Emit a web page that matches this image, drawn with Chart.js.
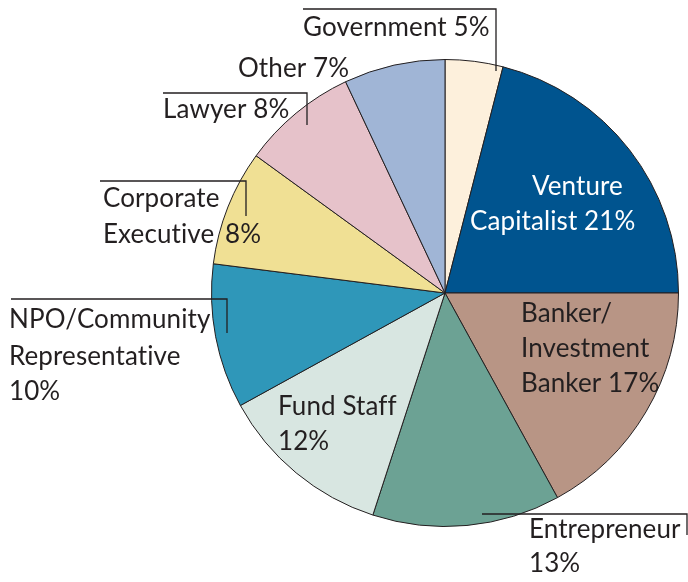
<!DOCTYPE html>
<html>
<head>
<meta charset="utf-8">
<script src="https://cdn.jsdelivr.net/npm/chart.js@4.4.1/dist/chart.umd.min.js"></script>
<style>
    html, body { margin: 0; padding: 0; background: #ffffff; }
    #contenedor { width: 688px; height: 582px; position: relative; }
</style>
</head>
<body>
<div id="contenedor"><canvas id="graficoPie"></canvas></div>
<script>
// Categories, clockwise from 12 o'clock
const categorias = ['Government', 'Venture Capitalist', 'Banker/Investment Banker', 'Entrepreneur',
    'Fund Staff', 'NPO/Community Representative', 'Corporate Executive', 'Lawyer', 'Other'];
// Percent printed in each label
const porcentajes = [5, 21, 17, 13, 12, 10, 8, 8, 7];
// Slice shares as drawn in the picture (government slice is drawn narrower than its label)
const partes = [4, 21, 17, 13, 12, 10, 8, 8, 7];
const colores = ['#fdf0dc', '#00548f', '#b89585', '#6ca294', '#d8e6e1',
    '#2f97b9', '#f0e094', '#e6c2ca', '#a0b5d6'];

const fuente = '26px Lato';
const tinta = '#231f20';

// text lines per slice: [text, x, baseline y]
const textos = [
    [['Government ' + porcentajes[0] + '%', 303, 36]],
    [['Venture', 532, 195], ['Capitalist ' + porcentajes[1] + '%', 470, 230]],
    [['Banker/', 521, 322], ['Investment', 521, 357], ['Banker ' + porcentajes[2] + '%', 521, 392]],
    [['Entrepreneur', 529, 538], [porcentajes[3] + '%', 529, 572]],
    [['Fund Staff', 278, 415], [porcentajes[4] + '%', 278, 450]],
    [['NPO/Community', 9, 328], ['Representative', 9, 365], [porcentajes[5] + '%', 9, 400]],
    [['Corporate', 103, 207], ['Executive', 103, 243], [porcentajes[6] + '%', 225, 243]],
    [['Lawyer ' + porcentajes[7] + '%', 163, 118]],
    [['Other ' + porcentajes[8] + '%', 238, 77]]
];
const colorTexto = [tinta, '#ffffff', tinta, tinta, tinta, tinta, tinta, tinta, tinta];

// leader brackets
const lineas = [
    [[303, 9], [496, 9], [496, 71]],
    [[163, 93], [307, 93], [307, 125]],
    [[100, 181], [246, 181], [246, 216]],
    [[11, 299], [227, 299], [227, 333]],
    [[482, 514], [687, 514], [687, 535]]
];

const etiquetas = {
    id: 'etiquetas',
    afterDraw(chart) {
        const c = chart.ctx;
        c.save();
        c.strokeStyle = tinta;
        c.lineWidth = 1.3;
        lineas.forEach(l => {
            c.beginPath();
            c.moveTo(l[0][0], l[0][1]);
            for (let i = 1; i < l.length; i++) c.lineTo(l[i][0], l[i][1]);
            c.stroke();
        });
        c.font = fuente;
        c.letterSpacing = '0.1px'; // evita la ligadura "ti" de Lato
        c.textAlign = 'left';
        c.textBaseline = 'alphabetic';
        textos.forEach((grupo, i) => {
            c.fillStyle = colorTexto[i];
            grupo.forEach(t => c.fillText(t[0], t[1], t[2]));
        });
        c.restore();
    }
};

const ctx = document.getElementById('graficoPie').getContext('2d');

new Chart(ctx, {
    type: 'pie',
    data: {
        labels: categorias,
        datasets: [{
            data: partes,
            backgroundColor: colores,
            borderColor: tinta,
            borderWidth: 1
        }]
    },
    options: {
        responsive: true,
        maintainAspectRatio: false,
        animation: false,
        layout: { padding: { left: 211, right: 9, top: 59, bottom: 55 } },
        plugins: {
            legend: { display: false },
            tooltip: { enabled: false }
        }
    },
    plugins: [etiquetas]
});
</script>
</body>
</html>
